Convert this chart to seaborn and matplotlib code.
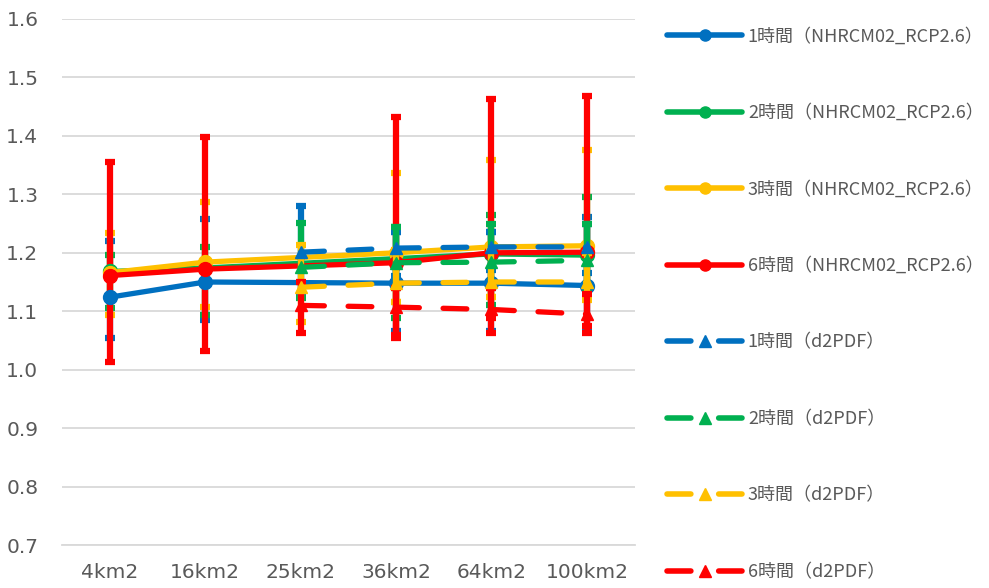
"""
Areal reduction ratio by duration: NHRCM02_RCP2.6 vs d2PDF
"""
import numpy as np
import pandas as pd
import seaborn as sns
import matplotlib.pyplot as plt
from matplotlib.lines import Line2D

nan = np.nan

areas = ['4km2', '16km2', '25km2', '36km2', '64km2', '100km2']
durations = ['1時間', '2時間', '3時間', '6時間']
colors = ['#0070C0', '#00B050', '#FFC000', '#FF0000']

# NHRCM02_RCP2.6 (no value at 25km2)
nhrcm_1h = [1.124, 1.150, nan, 1.148, 1.148, 1.144]
nhrcm_2h = [1.168, 1.174, nan, 1.190, 1.198, 1.196]
nhrcm_3h = [1.166, 1.184, nan, 1.200, 1.210, 1.212]
nhrcm_6h = [1.161, 1.172, nan, 1.183, 1.200, 1.201]

nhrcm_1h_hi = [1.220, 1.258, nan, 1.236, 1.235, 1.261]
nhrcm_1h_lo = [1.055, 1.085, nan, 1.067, 1.067, 1.070]
nhrcm_2h_hi = [1.196, 1.210, nan, 1.244, 1.264, 1.295]
nhrcm_2h_lo = [1.105, 1.093, nan, 1.088, 1.110, 1.131]
nhrcm_3h_hi = [1.234, 1.287, nan, 1.336, 1.359, 1.376]
nhrcm_3h_lo = [1.093, 1.107, nan, 1.115, 1.124, 1.125]
nhrcm_6h_hi = [1.355, 1.398, nan, 1.432, 1.463, 1.468]
nhrcm_6h_lo = [1.013, 1.032, nan, 1.054, 1.062, 1.062]

# d2PDF (from 25km2 on)
d2pdf_1h = [nan, nan, 1.201, 1.208, 1.210, 1.210]
d2pdf_2h = [nan, nan, 1.175, 1.183, 1.184, 1.187]
d2pdf_3h = [nan, nan, 1.141, 1.148, 1.150, 1.150]
d2pdf_6h = [nan, nan, 1.110, 1.107, 1.103, 1.095]

d2pdf_1h_hi = [nan, nan, 1.280, 1.236, 1.236, 1.250]
d2pdf_1h_lo = [nan, nan, 1.130, 1.160, 1.170, 1.165]
d2pdf_2h_hi = [nan, nan, 1.251, 1.244, 1.250, 1.250]
d2pdf_2h_lo = [nan, nan, 1.122, 1.140, 1.140, 1.131]
d2pdf_3h_hi = [nan, nan, 1.213, 1.205, 1.205, 1.200]
d2pdf_3h_lo = [nan, nan, 1.081, 1.115, 1.124, 1.120]
d2pdf_6h_hi = [nan, nan, 1.150, 1.140, 1.140, 1.130]
d2pdf_6h_lo = [nan, nan, 1.062, 1.060, 1.088, 1.075]

nhrcm = [
    (nhrcm_1h, nhrcm_1h_hi, nhrcm_1h_lo),
    (nhrcm_2h, nhrcm_2h_hi, nhrcm_2h_lo),
    (nhrcm_3h, nhrcm_3h_hi, nhrcm_3h_lo),
    (nhrcm_6h, nhrcm_6h_hi, nhrcm_6h_lo),
]
d2pdf = [
    (d2pdf_1h, d2pdf_1h_hi, d2pdf_1h_lo),
    (d2pdf_2h, d2pdf_2h_hi, d2pdf_2h_lo),
    (d2pdf_3h, d2pdf_3h_hi, d2pdf_3h_lo),
    (d2pdf_6h, d2pdf_6h_hi, d2pdf_6h_lo),
]

sns.set_style('white')
plt.rcParams['font.family'] = ['Noto Sans CJK JP', 'DejaVu Sans']

fig = plt.figure(figsize=(9.89, 5.88), dpi=100)
ax = fig.add_axes([0.0627, 0.0731, 0.579, 0.8946])

x_all = np.arange(len(areas))
dash = (0, (4.5, 4.5))


def draw(series, dashed, marker, msize, z):
    for (vals, hi, lo), c in zip(series, colors):
        df = pd.DataFrame({'x': x_all, 'v': vals, 'hi': hi, 'lo': lo}).dropna()
        ax.errorbar(df['x'], df['v'], yerr=[df['v'] - df['lo'], df['hi'] - df['v']],
                    fmt='none', ecolor=c, elinewidth=4.5, capsize=3.5, capthick=4.5,
                    zorder=z)
        sns.lineplot(data=df, x='x', y='v', ax=ax, color=c, linewidth=3.8,
                     linestyle=dash if dashed else '-', marker=marker,
                     markersize=msize, markeredgecolor=c, markeredgewidth=1,
                     dash_capstyle='round', solid_capstyle='round',
                     errorbar=None, zorder=z + 1)


draw(nhrcm, False, 'o', 10, 3)
draw(d2pdf, True, '^', 9, 5)

ax.set_xlim(-0.5, len(areas) - 0.5)
ax.set_ylim(0.7, 1.6)
yt = np.arange(0.7, 1.61, 0.1)
ax.set_yticks(yt)
ax.set_yticklabels([f'{v:.1f}' for v in yt], family='DejaVu Sans')
ax.set_xticks(x_all)
ax.set_xticklabels(areas, family='DejaVu Sans')
ax.set_xlabel('')
ax.set_ylabel('')
ax.grid(axis='y', color='#D9D9D9', linewidth=1.3)
ax.set_axisbelow(True)
for s in ['top', 'right', 'left']:
    ax.spines[s].set_visible(False)
ax.spines['bottom'].set_color('#D9D9D9')
ax.spines['bottom'].set_linewidth(1.3)
ax.tick_params(axis='both', length=0, labelsize=14.5, colors='#595959')
ax.tick_params(axis='y', pad=17)
ax.tick_params(axis='x', pad=13)

handles = []
labels = []
for d, c in zip(durations, colors):
    handles.append(Line2D([], [], color=c, linewidth=4, marker='o', markersize=8,
                          markeredgecolor=c, solid_capstyle='round'))
    labels.append(f'{d}（NHRCM02_RCP2.6）')
for d, c in zip(durations, colors):
    handles.append(Line2D([], [], color=c, linewidth=4, linestyle=(0, (4.3, 5.0)),
                          marker='^', markersize=8, markeredgecolor=c,
                          dash_capstyle='round'))
    labels.append(f'{d}（d2PDF）')

leg = fig.legend(handles, labels, loc='upper left', bbox_to_anchor=(0.674, 0.953),
                 frameon=False, fontsize=13, handlelength=4.2, handletextpad=0.3,
                 labelspacing=3.24, borderaxespad=0, borderpad=0)
for t in leg.get_texts():
    t.set_color('#595959')

fig.savefig('out.png', dpi=100)
plt.close(fig)
